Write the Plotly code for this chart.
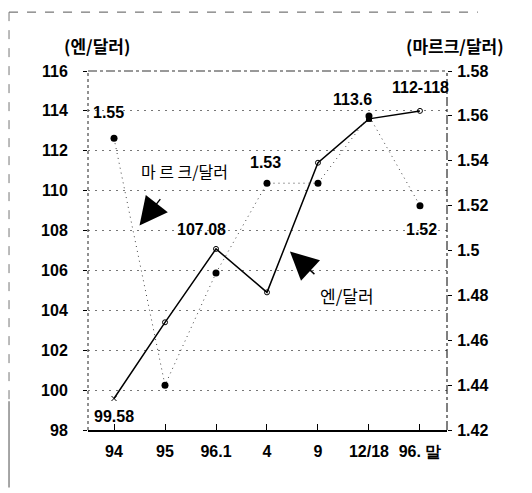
import plotly.graph_objects as go

categories = ["94", "95", "96.1", "4", "9", "12/18", "96. 말"]
yen_values = [99.58, 103.4, 107.08, 104.9, 111.4, 113.6, 114.0]
mark_values = [1.55, 1.44, 1.49, 1.53, 1.53, 1.56, 1.52]
left_ticks = [98, 100, 102, 104, 106, 108, 110, 112, 114, 116]
right_ticks = [1.42, 1.44, 1.46, 1.48, 1.50, 1.52, 1.54, 1.56, 1.58]
right_tick_text = ["1.42", "1.44", "1.46", "1.48", "1.5", "1.52", "1.54", "1.56", "1.58"]

NUM_FONT = "Liberation Sans, Arial, sans-serif"
KR_FONT = "Noto Sans CJK KR, sans-serif"

x_idx = list(range(len(categories)))

fig = go.Figure()

# Mark/dollar (right axis) dotted line with solid dots
fig.add_trace(go.Scatter(
    x=x_idx, y=mark_values, yaxis="y2", mode="lines+markers",
    line=dict(color="#444444", width=1, dash="1px,4px"),
    marker=dict(color="black", size=7, symbol="circle"),
    showlegend=False, hoverinfo="skip"))

# Yen/dollar (left axis) solid line
symbols = ["x-thin-open", "circle-open", "circle-open", "circle-open", "circle-open", "square", "circle-open"]
fig.add_trace(go.Scatter(
    x=x_idx, y=yen_values, mode="lines+markers",
    line=dict(color="black", width=1.5),
    marker=dict(color="black", size=5, symbol=symbols, line=dict(color="black", width=1)),
    showlegend=False, hoverinfo="skip"))

ann = []
def lab(text, x, y, yref="y", xs=0, ys=0):
    ann.append(dict(text=text, x=x, y=y, xref="x", yref=yref, xshift=xs, yshift=ys,
                    showarrow=False,
                    font=dict(family=NUM_FONT, size=16, color="black", weight="bold")))

lab("99.58", 0, yen_values[0], xs=0, ys=-18)
lab("107.08", 2, yen_values[2], xs=-15, ys=19)
lab("113.6", 5, yen_values[5], xs=-16, ys=19)
lab("112-118", 6, yen_values[6], xs=1, ys=23)
lab("1.55", 0, mark_values[0], yref="y2", xs=-6, ys=26)
lab("1.53", 3, mark_values[3], yref="y2", xs=-1, ys=21)
lab("1.52", 6, mark_values[6], yref="y2", xs=2, ys=-24)

# series name labels with arrows
ann.append(dict(text="마 르 크/달러", x=1.39, y=111.0, xref="x", yref="y", showarrow=False,
                font=dict(family=KR_FONT, size=16, color="black")))
ann.append(dict(text="", x=0.5, y=108.25, xref="x", yref="y", ax=22, ay=-28,
                showarrow=True, arrowhead=2, arrowsize=4, arrowwidth=1.4, arrowcolor="black"))
ann.append(dict(text="엔/달러", x=4.57, y=104.72, xref="x", yref="y", showarrow=False,
                font=dict(family=KR_FONT, size=17, color="black")))
ann.append(dict(text="", x=3.45, y=106.95, xref="x", yref="y", ax=26, ay=24,
                showarrow=True, arrowhead=2, arrowsize=4, arrowwidth=1.4, arrowcolor="black"))

# axis unit titles
ann.append(dict(text="(엔/달러)", x=0.025, y=1.07, xref="paper", yref="paper", showarrow=False,
                xanchor="center", yanchor="middle",
                font=dict(family=KR_FONT, size=17, color="black", weight="bold")))
ann.append(dict(text="(마르크/달러)", x=1.022, y=1.07, xref="paper", yref="paper", showarrow=False,
                xanchor="center", yanchor="middle",
                font=dict(family=KR_FONT, size=17, color="black", weight="bold")))

shapes = [
    # left axis dotted line
    dict(type="line", xref="paper", yref="paper", x0=0, x1=0, y0=0, y1=1,
         line=dict(color="#222222", width=1, dash="dot")),
    # right axis dash-dot line
    dict(type="line", xref="paper", yref="paper", x0=1, x1=1, y0=0, y1=1,
         line=dict(color="black", width=1, dash="dashdot")),
    # top dash-dot gridline
    dict(type="line", xref="paper", yref="paper", x0=0, x1=1, y0=1, y1=1,
         line=dict(color="#333333", width=1, dash="dashdot")),
    # outer frame: top dotted and left dashed
    dict(type="line", xref="paper", yref="paper", x0=-0.22, x1=1.086, y0=1.164, y1=1.164,
         line=dict(color="#555555", width=1, dash="dash")),
    dict(type="line", xref="paper", yref="paper", x0=-0.22, x1=-0.22, y0=1.164, y1=0.08,
         line=dict(color="#777777", width=1, dash="dash")),
    dict(type="line", xref="paper", yref="paper", x0=-0.22, x1=-0.22, y0=0.08, y1=-0.16,
         line=dict(color="#888888", width=1.5)),
]

fig.update_layout(
    width=524, height=485,
    margin=dict(l=80, r=85, t=63, b=63),
    paper_bgcolor="white", plot_bgcolor="white",
    annotations=ann, shapes=shapes,
    xaxis=dict(range=[-0.51, 6.53], tickvals=x_idx, ticktext=categories,
               showgrid=False, zeroline=False, showline=True, linecolor="black", linewidth=1.5,
               ticks="inside", ticklen=6, tickcolor="black", ticklabelstandoff=6,
               tickfont=dict(family=NUM_FONT, size=16, color="black", weight="bold")),
    yaxis=dict(range=[98, 116], tickvals=left_ticks, showgrid=True,
               gridcolor="#777777", griddash="2px,5px", gridwidth=1,
               zeroline=False, showline=False, ticks="outside", ticklen=4, tickcolor="black",
               ticklabelstandoff=12,
               tickfont=dict(family=NUM_FONT, size=16, color="black", weight="bold")),
    yaxis2=dict(range=[1.42, 1.58], tickvals=right_ticks, ticktext=right_tick_text,
                overlaying="y", side="right", showgrid=False, zeroline=False, showline=False,
                ticks="outside", ticklen=4, tickcolor="black", ticklabelstandoff=2,
                tickfont=dict(family=NUM_FONT, size=16, color="black", weight="bold")),
)

fig.write_html("out.html")
